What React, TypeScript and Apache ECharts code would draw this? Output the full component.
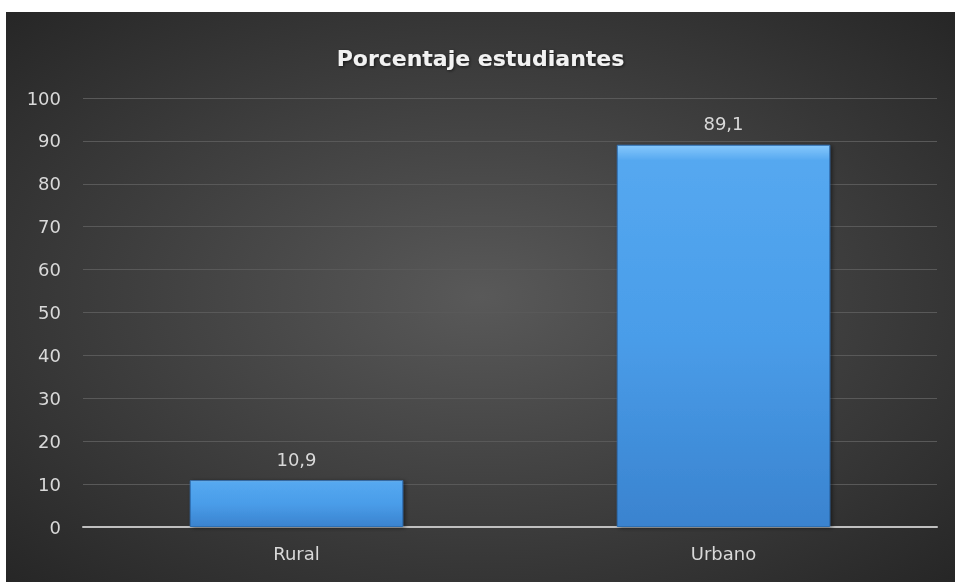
import React, { useEffect, useRef } from "react";
import * as echarts from "echarts";

const categories = ["Rural", "Urbano"];
const values = [10.9, 89.1];
const titleText = "Porcentaje estudiantes";

const FONT = "DejaVu Sans";

export default function App() {
  const ref = useRef<HTMLDivElement>(null);
  useEffect(() => {
    if (!ref.current) return;
    const chart = echarts.init(ref.current, undefined, { renderer: "svg" });
    chart.setOption({
      animation: false,
      backgroundColor: {
        type: "radial",
        x: 0.5,
        y: 0.5,
        r: 0.75,
        colorStops: [
          { offset: 0, color: "#595959" },
          { offset: 1, color: "#232323" },
        ],
      },
      title: {
        text: titleText,
        left: "center",
        top: 30,
        textStyle: {
          color: "#f2f2f2",
          fontFamily: FONT,
          fontWeight: "bold",
          fontSize: 22,
          textShadowColor: "rgba(0,0,0,0.6)",
          textShadowBlur: 3,
          textShadowOffsetX: 1,
          textShadowOffsetY: 1,
        },
      },
      grid: { left: 77, right: 18, top: 86, bottom: 55 },
      xAxis: {
        type: "category",
        data: categories,
        axisLine: { lineStyle: { color: "#bfbfbf", width: 2 } },
        axisTick: { show: false },
        axisLabel: { color: "#d9d9d9", fontSize: 18, fontFamily: FONT, margin: 17 },
      },
      yAxis: {
        type: "value",
        min: 0,
        max: 100,
        interval: 10,
        axisLine: { show: false },
        axisTick: { show: false },
        splitLine: { lineStyle: { color: "#595959", width: 1 } },
        axisLabel: { color: "#d9d9d9", fontSize: 18, fontFamily: FONT, margin: 22 },
      },
      series: [
        {
          type: "bar",
          data: values,
          barWidth: "50%",
          itemStyle: {
            color: {
              type: "linear",
              x: 0,
              y: 0,
              x2: 0,
              y2: 1,
              colorStops: [
                { offset: 0, color: "#86c8fc" },
                { offset: 0.04, color: "#55a8f0" },
                { offset: 0.5, color: "#4a9de9" },
                { offset: 1, color: "#3a83cf" },
              ],
            },
            borderColor: "#2f6fb3",
            borderWidth: 1,
            shadowColor: "rgba(0,0,0,0.5)",
            shadowBlur: 4,
            shadowOffsetX: 2,
            shadowOffsetY: 1,
          },
          label: {
            show: true,
            position: "top",
            distance: 12,
            color: "#d9d9d9",
            fontSize: 18,
            fontFamily: FONT,
            formatter: (p: any) => String(p.value).replace(".", ","),
          },
        },
      ],
    });
    return () => chart.dispose();
  }, []);
  return (
    <div
      ref={ref}
      style={{ position: "fixed", left: 6, top: 12, width: 949, height: 570 }}
    />
  );
}
